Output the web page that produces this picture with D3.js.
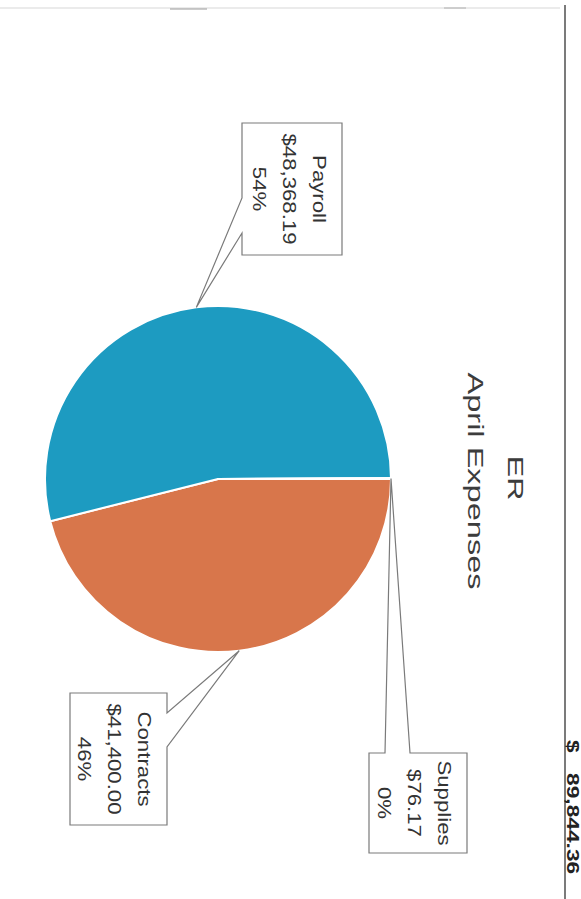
<!DOCTYPE html>
<html>
<head>
<meta charset="utf-8">
<script src="https://cdn.jsdelivr.net/npm/d3@7"></script>
<style>
  html, body { margin: 0; padding: 0; background: #ffffff; }
  svg { display: block; }
  text { font-family: "Liberation Sans", Arial, "Noto Sans", sans-serif; }
</style>
</head>
<body>
<div id="chart"></div>
<script>
// ---- data ----
const categories = ["Contracts", "Payroll", "Supplies"];
const amounts = [41400.00, 48368.19, 76.17];
const amountLabels = ["$41,400.00", "$48,368.19", "$76.17"];
const percentLabels = ["46%", "54%", "0%"];
const sliceColors = ["#d8764b", "#1d9bc1", "#a5a5a5"];
const titleLines = ["ER", "April Expenses"];
const totalCurrency = "$";
const totalLabel = "89,844.36";

// ---- layout ----
const W = 581, H = 899;
const svg = d3.select("#chart").append("svg")
  .attr("width", W).attr("height", H)
  .attr("viewBox", `0 0 ${W} ${H}`);

svg.append("rect").attr("width", W).attr("height", H).attr("fill", "#ffffff");

// scanned page artefacts (document frame)
svg.append("line").attr("x1", 0).attr("x2", 560).attr("y1", 8).attr("y2", 8)
  .attr("stroke", "#e4e4e4").attr("stroke-width", 1.5);
svg.append("line").attr("x1", 170).attr("x2", 207).attr("y1", 9).attr("y2", 9)
  .attr("stroke", "#9a9a9a").attr("stroke-width", 1);
svg.append("line").attr("x1", 444).attr("x2", 466).attr("y1", 8).attr("y2", 8)
  .attr("stroke", "#b0b0b0").attr("stroke-width", 1);
svg.append("line").attr("x1", 565).attr("x2", 565).attr("y1", 5).attr("y2", H)
  .attr("stroke", "#5a5a5a").attr("stroke-width", 1.6);

// chart drawn in its own orientation (899 wide x 581 tall) and rotated 90deg clockwise
const g = svg.append("g").attr("transform", `translate(${W},0) rotate(90)`);

// bottom-right total, squeezed against the page edge
const totalStretch = 1.34;
[[totalCurrency, 740], [totalLabel, 773]].forEach(([t, u]) => {
  g.append("g")
    .attr("transform", `translate(${u},14) scale(${totalStretch},1)`)
    .append("text")
    .attr("font-weight", "bold")
    .attr("font-size", 17)
    .attr("fill", "#222")
    .text(t);
});

// title
const titleStretch = 1.48;
const titlePos = [{u: 478, v: 73}, {u: 481, v: 113}];
titleLines.forEach((t, i) => {
  g.append("g")
    .attr("transform", `translate(${titlePos[i].u},${titlePos[i].v}) scale(${titleStretch},1)`)
    .append("text")
    .attr("text-anchor", "middle")
    .attr("font-size", 22)
    .attr("fill", "#3c3c3c")
    .text(t);
});

// pie
const cx = 479, cy = 363, R = 173;
const pie = d3.pie().sort(null).value(d => d).startAngle(0).endAngle(2 * Math.PI);
const arcs = pie(amounts);
const arc = d3.arc().innerRadius(0).outerRadius(R);

const pieG = g.append("g").attr("transform", `translate(${cx},${cy})`);
pieG.selectAll("path.slice").data(arcs).enter().append("path")
  .attr("class", "slice")
  .attr("d", arc)
  .attr("fill", (d, i) => sliceColors[i])
  .attr("stroke", "#ffffff")
  .attr("stroke-width", 2)
  .attr("stroke-linejoin", "round");

// callout boxes (layout in chart orientation)
const boxes = [
  {x: 693, y: 414, w: 132, h: 97, side: "top", a: 713, b: 747},     // Contracts
  {x: 123, y: 239, w: 132, h: 100, side: "bottom", a: 198, b: 233},  // Payroll
  {x: 753, y: 114, w: 100, h: 98, side: "left", a: 171, b: 196}     // Supplies
];

function tipPoint(d) {
  const a = (d.startAngle + d.endAngle) / 2;
  return [cx + R * Math.sin(a), cy - R * Math.cos(a)];
}

function calloutPath(bx, tip) {
  const x0 = bx.x, y0 = bx.y, x1 = bx.x + bx.w, y1 = bx.y + bx.h;
  const [tx, ty] = tip;
  let p;
  if (bx.side === "top") {
    p = [[x0, y0], [bx.a, y0], [tx, ty], [bx.b, y0], [x1, y0], [x1, y1], [x0, y1]];
  } else if (bx.side === "bottom") {
    p = [[x0, y0], [x1, y0], [x1, y1], [bx.b, y1], [tx, ty], [bx.a, y1], [x0, y1]];
  } else {
    p = [[x0, y0], [x1, y0], [x1, y1], [x0, y1], [x0, bx.b], [tx, ty], [x0, bx.a]];
  }
  return "M" + p.map(q => q.join(",")).join("L") + "Z";
}

const labelStretch = 1.17;
const lineOffsets = [29, 59, 89];
arcs.forEach((d, i) => {
  const bx = boxes[i];
  g.append("path")
    .attr("d", calloutPath(bx, tipPoint(d)))
    .attr("fill", "#ffffff")
    .attr("stroke", "#7a7a7a")
    .attr("stroke-width", 1.2)
    .attr("stroke-linejoin", "miter");
  const lines = [categories[i], amountLabels[i], percentLabels[i]];
  const mu = bx.x + bx.w / 2;
  lines.forEach((t, j) => {
    g.append("g")
      .attr("transform", `translate(${mu},${bx.y + lineOffsets[j]}) scale(${labelStretch},1)`)
      .append("text")
      .attr("text-anchor", "middle")
      .attr("font-size", 19)
      .attr("fill", "#333333")
      .text(t);
  });
});
</script>
</body>
</html>
